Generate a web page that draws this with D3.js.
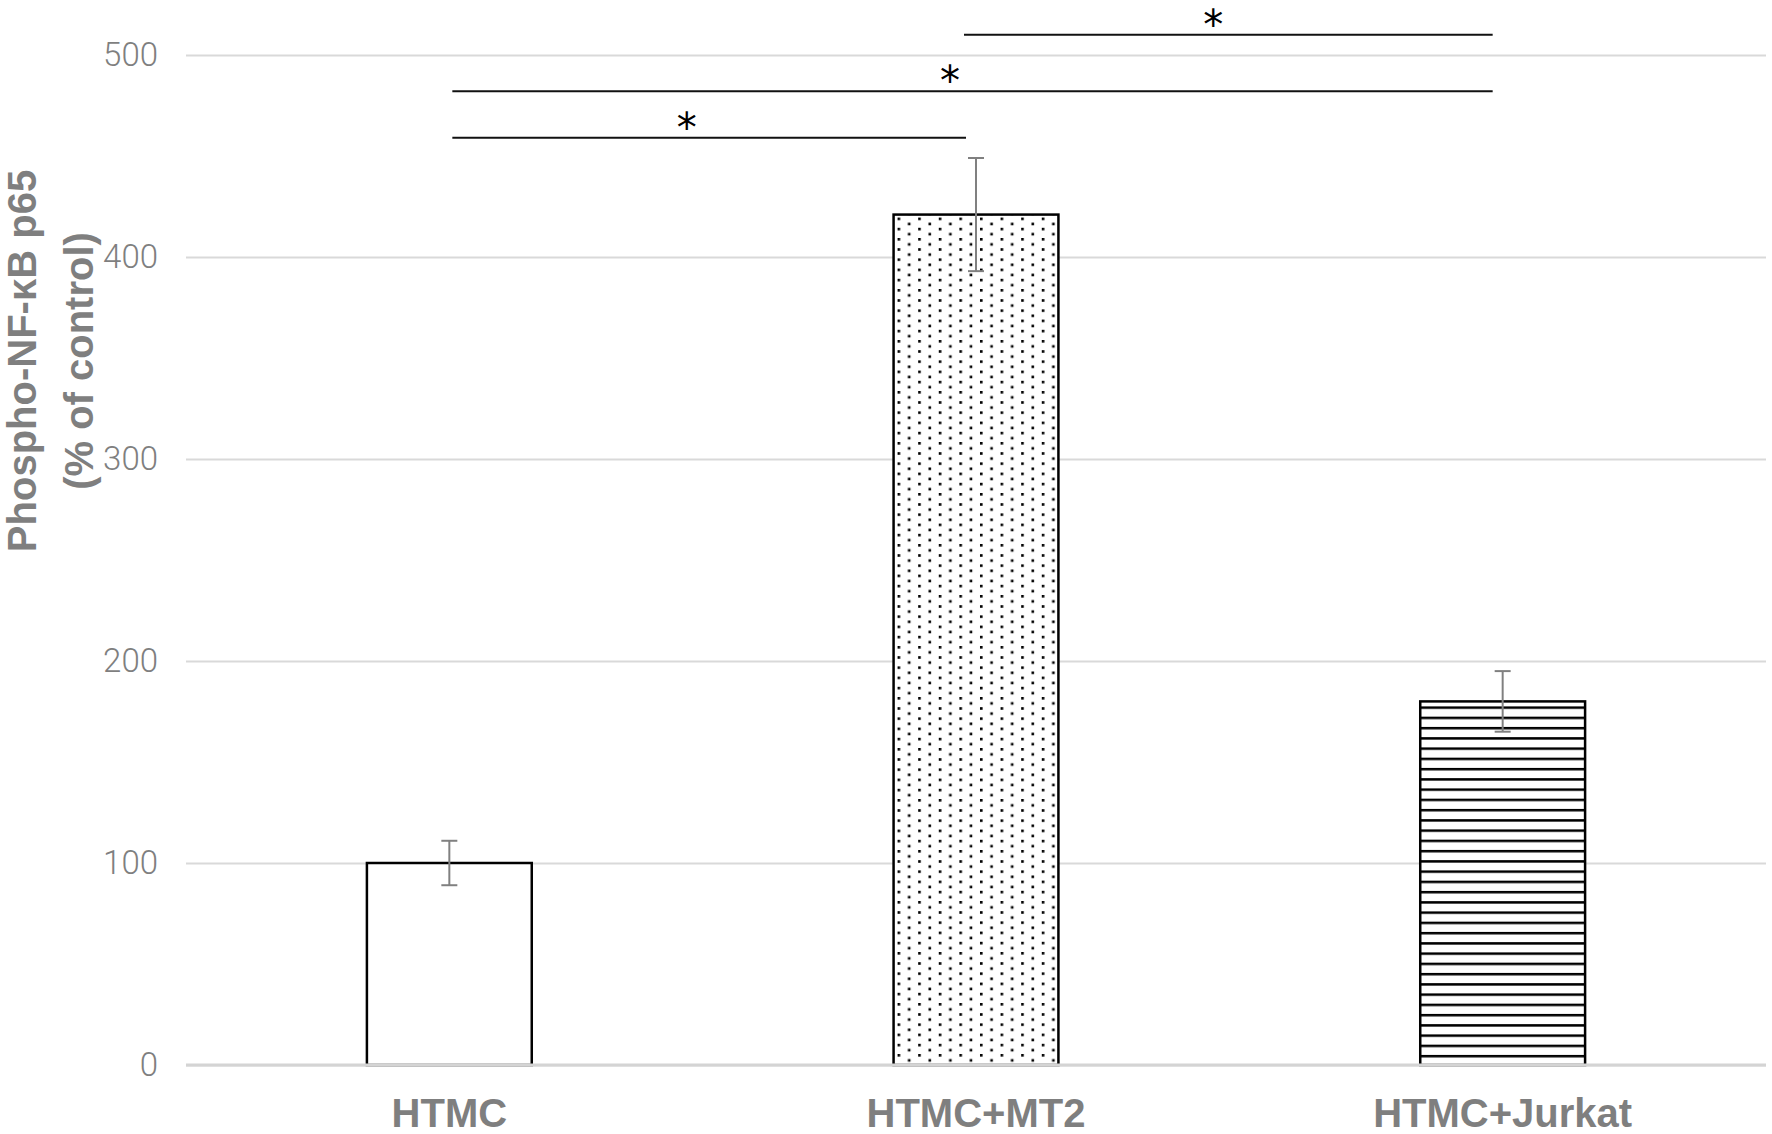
<!DOCTYPE html>
<html>
<head>
<meta charset="utf-8">
<script src="https://cdn.jsdelivr.net/npm/d3@7"></script>
<style>
  html, body { margin: 0; padding: 0; background: #fff; }
  svg { display: block; }
</style>
</head>
<body>
<svg id="chart"></svg>
<script>
// chart values
const groups = ['HTMC', 'HTMC+MT2', 'HTMC+Jurkat'];
const means = [100, 421, 180];
const errors = [11, 28, 15];
const fills = ['none', 'dots', 'lines'];
const yTicks = [0, 100, 200, 300, 400, 500];
const yTitle = ['Phospho-NF-\u03baB p65', '(% of control)'];
// significance brackets: from group, to group, height (axis units)
const bracketFrom = ['HTMC', 'HTMC', 'HTMC+MT2'];
const bracketTo = ['HTMC+MT2', 'HTMC+Jurkat', 'HTMC+Jurkat'];
const bracketLevel = [459, 482, 510];
const bracketMark = ['*', '*', '*'];

const width = 1772;
const height = 1134;
const grey = '#7f7f7f';

const svg = d3.select('#chart')
	.attr('width', width)
	.attr('height', height);

const x = d3.scaleBand()
	.domain(groups)
	.range([186, 1766])
	.paddingInner(0.687)
	.paddingOuter(0.3435);

const y = d3.scaleLinear()
	.domain([0, 500])
	.range([1065, 55]);

// patterns for the bars
const defs = svg.append('defs');

const dots = defs.append('pattern')
	.attr('id', 'dots')
	.attr('patternUnits', 'userSpaceOnUse')
	.attr('x', x('HTMC+MT2') + 4)
	.attr('y', y(421) + 3)
	.attr('width', 20.6)
	.attr('height', 10.2);
dots.append('rect').attr('width', 20.6).attr('height', 10.2).attr('fill', '#fff');
dots.append('rect').attr('x', 0).attr('y', 0).attr('width', 2.6).attr('height', 2.6).attr('fill', '#000');
dots.append('rect').attr('x', 10.3).attr('y', 5.1).attr('width', 2.6).attr('height', 2.6).attr('fill', '#000');

const lines = defs.append('pattern')
	.attr('id', 'lines')
	.attr('patternUnits', 'userSpaceOnUse')
	.attr('x', 0)
	.attr('y', y(180) + 5)
	.attr('width', 20)
	.attr('height', 10.25);
lines.append('rect').attr('width', 20).attr('height', 10.25).attr('fill', '#fff');
lines.append('rect').attr('x', 0).attr('y', 0).attr('width', 20).attr('height', 2.5).attr('fill', '#000');

// gridlines + tick labels
const yAxis = svg.append('g')
	.attr('transform', 'translate(186,0)')
	.call(d3.axisLeft(y)
		.tickValues(yTicks)
		.tickSize(-1580)
		.tickPadding(28)
		.tickFormat(d3.format('d')));

yAxis.select('.domain').remove();
yAxis.selectAll('.tick line')
	.attr('stroke', '#d9d9d9')
	.attr('stroke-width', 2);
yAxis.selectAll('.tick text')
	.attr('fill', grey)
	.attr('font-family', 'Roboto, "Liberation Sans", sans-serif')
	.attr('font-weight', 300)
	.attr('font-size', 33);

// bars
const rows = groups.map((g, i) => ({group: g, mean: means[i], err: errors[i], fill: fills[i]}));

svg.append('g')
	.selectAll('rect')
	.data(rows)
	.enter()
	.append('rect')
	.attr('x', d => x(d.group))
	.attr('y', d => y(d.mean))
	.attr('width', x.bandwidth())
	.attr('height', d => y(0) - y(d.mean))
	.attr('fill', d => d.fill === 'none' ? '#fff' : 'url(#' + d.fill + ')')
	.attr('stroke', '#000')
	.attr('stroke-width', 2.5);

// zero line drawn over the bar bottoms
svg.append('line')
	.attr('x1', 186)
	.attr('x2', 1766)
	.attr('y1', y(0))
	.attr('y2', y(0))
	.attr('stroke', '#d4d4d4')
	.attr('stroke-width', 3);

// error bars
const err = svg.append('g')
	.attr('stroke', '#808080')
	.attr('stroke-width', 2)
	.selectAll('g')
	.data(rows)
	.enter()
	.append('g')
	.attr('transform', d => 'translate(' + (x(d.group) + x.bandwidth() / 2) + ',0)');

err.append('line')
	.attr('y1', d => y(d.mean + d.err))
	.attr('y2', d => y(d.mean - d.err));
err.append('line')
	.attr('x1', -8).attr('x2', 8)
	.attr('y1', d => y(d.mean + d.err))
	.attr('y2', d => y(d.mean + d.err));
err.append('line')
	.attr('x1', -8).attr('x2', 8)
	.attr('y1', d => y(d.mean - d.err))
	.attr('y2', d => y(d.mean - d.err));

// significance brackets
const mid = g => x(g) + x.bandwidth() / 2;
const brackets = bracketFrom.map((f, i) => ({from: f, to: bracketTo[i], level: bracketLevel[i], mark: bracketMark[i]}));

const br = svg.append('g')
	.selectAll('g')
	.data(brackets)
	.enter()
	.append('g');

br.append('line')
	.attr('x1', d => mid(d.from) + (d.from === 'HTMC' ? 3 : -12))
	.attr('x2', d => mid(d.to) - 10)
	.attr('y1', d => y(d.level))
	.attr('y2', d => y(d.level))
	.attr('stroke', '#111')
	.attr('stroke-width', 2);

br.append('text')
	.attr('x', d => (mid(d.from) + mid(d.to)) / 2 - 26)
	.attr('y', d => y(d.level) + 4)
	.attr('text-anchor', 'middle')
	.attr('font-family', '"DejaVu Sans", sans-serif')
	.attr('font-size', 40)
	.attr('fill', '#000')
	.text(d => d.mark);

// category labels
svg.append('g')
	.selectAll('text')
	.data(groups)
	.enter()
	.append('text')
	.attr('x', d => mid(d))
	.attr('y', 1127)
	.attr('text-anchor', 'middle')
	.attr('font-family', '"Liberation Sans", Arial, sans-serif')
	.attr('font-weight', 'bold')
	.attr('font-size', 40)
	.attr('fill', grey)
	.text(d => d);

// y axis title
svg.append('g')
	.attr('transform', 'translate(0,361) rotate(-90)')
	.selectAll('text')
	.data(yTitle)
	.enter()
	.append('text')
	.attr('x', 0)
	.attr('y', (d, i) => 36 + i * 57)
	.attr('text-anchor', 'middle')
	.attr('font-family', '"Liberation Sans", Arial, sans-serif')
	.attr('font-weight', 'bold')
	.attr('font-size', 40)
	.attr('fill', grey)
	.text(d => d);
</script>
</body>
</html>
